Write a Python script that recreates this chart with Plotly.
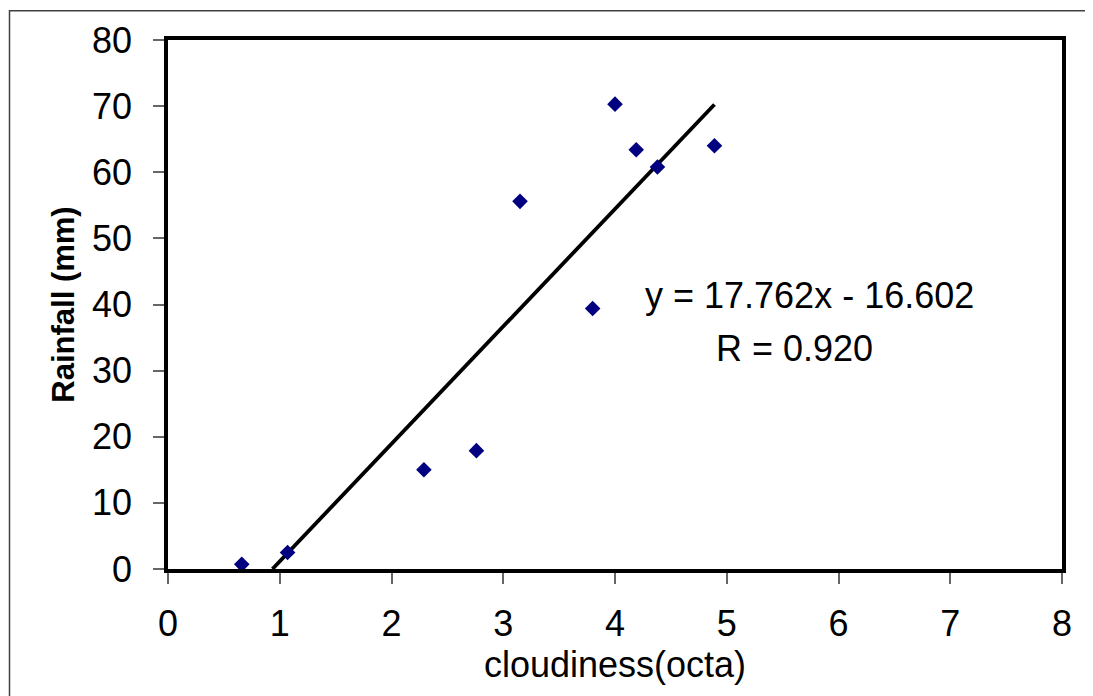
import plotly.graph_objects as go

# Data
cloudiness = [0.66, 1.07, 2.29, 2.76, 3.15, 3.80, 4.00, 4.19, 4.38, 4.89]
rainfall = [0.7, 2.5, 15.0, 17.9, 55.6, 39.4, 70.3, 63.4, 60.8, 64.0]
slope = 17.762
intercept = -16.602
x_ticks = [0, 1, 2, 3, 4, 5, 6, 7, 8]
y_ticks = [0, 10, 20, 30, 40, 50, 60, 70, 80]

# trendline from the regression equation, spanning the root to the max x
x_start = -intercept / slope
x_end = max(cloudiness)
trend_x = [x_start, x_end]
trend_y = [slope * v + intercept for v in trend_x]

W, H = 1093, 696
OFF = 8  # page body margin
L, T = 168 - OFF, 38 - OFF
pw, ph = 894, 531
R = W - L - pw
B = H - T - ph

FONT = "Liberation Sans, Arial, sans-serif"

fig = go.Figure()
fig.add_trace(go.Scatter(x=trend_x, y=trend_y, mode="lines",
                         line=dict(color="black", width=3.8), showlegend=False,
                         hoverinfo="skip"))
fig.add_trace(go.Scatter(x=cloudiness, y=rainfall, mode="markers",
                         marker=dict(symbol="diamond", size=12, color="#000080",
                                     line=dict(width=0)),
                         showlegend=False))

fig.add_annotation(x=4.25, y=41.3, xref="x", yref="y", text="y = 17.762x - 16.602",
                   showarrow=False, xanchor="left", yanchor="middle",
                   font=dict(family=FONT, size=36, color="black"))
fig.add_annotation(x=4.886, y=33.4, xref="x", yref="y", text="R = 0.920",
                   showarrow=False, xanchor="left", yanchor="middle",
                   font=dict(family=FONT, size=36, color="black"))

# outer chart frame (in figure pixel coords converted to paper)
def px_to_paper_x(p):
    return (p - L) / pw

def px_to_paper_y(p):
    return (T + ph - p) / ph

fig.add_shape(type="rect", xref="paper", yref="paper",
              x0=px_to_paper_x(1.5), x1=px_to_paper_x(1110),
              y0=px_to_paper_y(720), y1=px_to_paper_y(0.75),
              line=dict(color="#404040", width=1.5), fillcolor="rgba(0,0,0,0)",
              layer="below")

fig.update_layout(
    width=W, height=H,
    margin=dict(l=L, r=R, t=T, b=B),
    paper_bgcolor="white", plot_bgcolor="white",
    font=dict(family=FONT, color="black"),
    xaxis=dict(range=[0, 8], tickvals=x_ticks, ticktext=[str(v) for v in x_ticks],
               showgrid=False, zeroline=False,
               showline=True, linecolor="black", linewidth=3.5, mirror=True,
               ticks="outside", ticklen=11, tickwidth=1.5, tickcolor="#666666",
               tickfont=dict(family=FONT, size=36, color="black"),
               ticklabelstandoff=9,
               title=dict(text="cloudiness(octa)", standoff=0,
                          font=dict(family=FONT, size=36, color="black"))),
    yaxis=dict(range=[0, 80], tickvals=y_ticks, ticktext=[str(v) for v in y_ticks],
               showgrid=False, zeroline=False,
               showline=True, linecolor="black", linewidth=3.5, mirror=True,
               ticks="outside", ticklen=11, tickwidth=1.5, tickcolor="#666666",
               tickfont=dict(family=FONT, size=36, color="black"),
               ticklabelstandoff=14,
               title=dict(text="<b>Rainfall (mm)</b>", standoff=9,
                          font=dict(family=FONT, size=31, color="black"))),
)

fig.write_html("out.html")
